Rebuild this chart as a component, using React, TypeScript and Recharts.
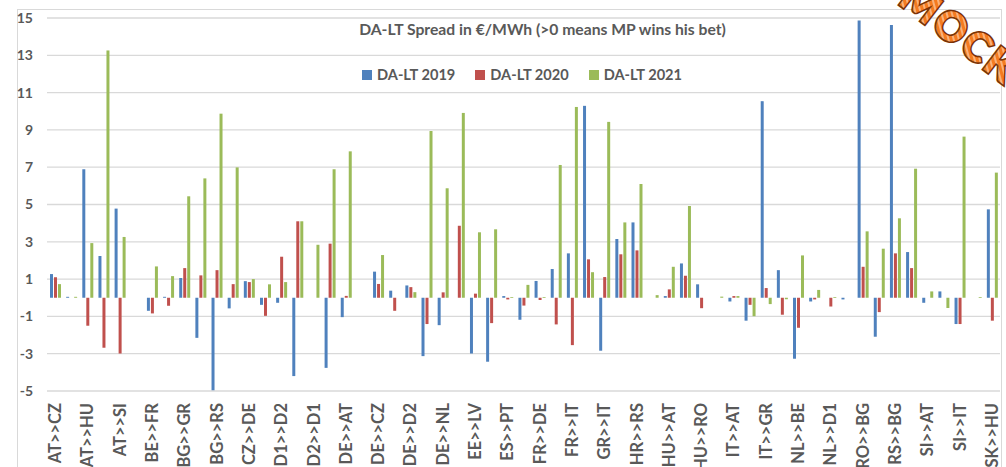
import { BarChart, Bar, XAxis, YAxis, CartesianGrid, Legend } from 'recharts';

const categories = [
  'AT>>CZ', 'AT>>DE', 'AT>>HU', 'AT>>IT', 'AT>>SI', 'BE>>DE', 'BE>>FR', 'BE>>NL', 'BG>>GR', 'BG>>RO',
  'BG>>RS', 'CH>>DE', 'CZ>>DE', 'CZ>>SK', 'D1>>D2', 'D1>>NL', 'D2>>D1', 'D2>>DE', 'DE>>AT', 'DE>>BE',
  'DE>>CZ', 'DE>>D1', 'DE>>D2', 'DE>>FR', 'DE>>NL', 'DE>>PL', 'EE>>LV', 'ES>>FR', 'ES>>PT', 'FR>>BE',
  'FR>>DE', 'FR>>ES', 'FR>>IT', 'GR>>BG', 'GR>>IT', 'HR>>HU', 'HR>>RS', 'HR>>SI', 'HU>>AT', 'HU>>HR',
  'HU>>RO', 'HU>>SK', 'IT>>AT', 'IT>>FR', 'IT>>GR', 'IT>>SI', 'NL>>BE', 'NL>>DE', 'NL>>D1', 'PT>>ES',
  'RO>>BG', 'RO>>HU', 'RS>>BG', 'RS>>HU', 'SI>>AT', 'SI>>HR', 'SI>>IT', 'SK>>CZ', 'SK>>HU',
];

const da2019 = [
  1.27, 0.05, 6.89, 2.24, 4.78, 0, -0.7, 0.05, 1.06, -2.15,
  -4.96, -0.57, 0.89, -0.38, -0.27, -4.2, 0, -3.76, -1.04, 0,
  1.4, 0.38, 0.66, -3.13, -1.47, 0, -2.99, -3.43, 0.09, -1.18,
  0.9, 1.54, 2.38, 10.29, -2.84, 3.15, 4.04, 0, 0.09, 1.84,
  0.72, 0, -0.2, -1.23, 10.54, 1.48, -3.27, -0.2, 0, -0.09,
  14.87, -2.09, 14.62, 2.45, -0.27, 0.34, -1.41, 0, 4.74,
];

const da2020 = [
  1.1, 0, -1.5, -2.68, -2.99, 0, -0.84, -0.43, 1.59, 1.2,
  1.48, 0.73, 0.84, -0.97, 2.2, 4.1, 0, 2.9, 0.1, 0,
  0.74, -0.7, 0.57, -1.41, 0.29, 3.86, 0.22, -1.36, -0.09, -0.42,
  -0.12, -1.43, -2.54, 2.06, 1.11, 2.33, 2.54, 0, 0.45, 1.18,
  -0.56, 0, 0.09, -0.38, 0.52, -0.91, -1.61, -0.09, -0.47, 0,
  1.66, -0.77, 2.38, 1.59, 0, 0, -1.41, 0, -1.23,
];

const da2021 = [
  0.73, 0.05, 2.93, 13.26, 3.26, 0, 1.68, 1.16, 5.44, 6.4,
  9.87, 6.99, 1.0, 0.72, 0.84, 4.1, 2.84, 6.89, 7.85, 0,
  2.29, 0, 0.3, 8.94, 5.87, 9.91, 3.51, 3.67, 0.04, 0.69,
  0.04, 7.12, 10.23, 1.37, 9.43, 4.04, 6.1, 0.14, 1.66, 4.92,
  0, 0.06, 0.09, -0.99, -0.34, -0.08, 2.27, 0.42, 0.04, 0,
  3.56, 2.63, 4.26, 6.92, 0.34, -0.55, 8.64, 0.04, 6.71,
];

const yTicks = [-5, -3, -1, 1, 3, 5, 7, 9, 11, 13, 15];

const SERIES = [
  { key: 'DA-LT 2019', color: '#4F81BD' },
  { key: 'DA-LT 2020', color: '#C0504D' },
  { key: 'DA-LT 2021', color: '#9BBB59' },
];

const FONT = 'Lato, "Open Sans", sans-serif';
const TEXT = '#595959';

const data = categories.map((name, i) => ({
  name,
  'DA-LT 2019': da2019[i],
  'DA-LT 2020': da2020[i],
  'DA-LT 2021': da2021[i],
}));

function XTick(props: any) {
  const { x, y, payload } = props;
  return (
    <text
      x={x}
      y={y}
      transform={`rotate(-90, ${x}, ${y})`}
      textAnchor="end"
      dominantBaseline="central"
      fill={TEXT}
      fontSize={16.5}
      fontWeight={700}
      fontFamily={FONT}
    >
      {payload.value}
    </text>
  );
}

function LegendContent() {
  return (
    <div style={{ display: 'flex', alignItems: 'center', fontFamily: FONT, fontWeight: 700, fontSize: 14.6, color: TEXT }}>
      {SERIES.map((s, i) => (
        <div key={s.key} style={{ display: 'flex', alignItems: 'center', marginRight: i < 2 ? 20 : 0 }}>
          <div style={{ width: 10, height: 10, background: s.color, marginRight: 5 }} />
          <span style={{ lineHeight: '16px' }}>{s.key}</span>
        </div>
      ))}
    </div>
  );
}

export default function App() {
  return (
    <div style={{ position: 'absolute', left: 0, top: 0, width: 1006, height: 467, overflow: 'hidden', background: '#fff' }}>
      <div style={{ position: 'absolute', left: 17, top: 9, width: 983, height: 600, border: '1px solid #d9d9d9' }} />
      <div
        style={{
          position: 'absolute',
          left: 0,
          top: 20,
          width: 1085,
          textAlign: 'center',
          fontFamily: FONT,
          fontWeight: 700,
          fontSize: 15.7,
          lineHeight: '18px',
          color: TEXT,
        }}
      >
        DA-LT Spread in €/MWh (&gt;0 means MP wins his bet)
      </div>
      <div style={{ position: 'absolute', left: 0, top: 0 }}>
        <BarChart
          width={1006}
          height={467}
          data={data}
          margin={{ top: 18, right: 6, bottom: 0, left: 0 }}
          barSize={3}
          barGap={1}
        >
          <CartesianGrid vertical={false} stroke="#d9d9d9" strokeWidth={1.3} />
          <XAxis
            dataKey="name"
            interval={1}
            height={76}
            axisLine={false}
            tickLine={false}
            tickSize={0}
            tickMargin={12}
            tick={<XTick />}
          />
          <YAxis
            width={47}
            domain={[-5, 15]}
            ticks={yTicks}
            axisLine={false}
            tickLine={false}
            tickSize={0}
            tickMargin={14}
            tick={{ fill: TEXT, fontSize: 14, fontWeight: 700, fontFamily: FONT }}
          />
          <Legend
            verticalAlign="middle"
            align="center"
            content={<LegendContent />}
            wrapperStyle={{ top: 67, left: 362, width: 'auto' }}
          />
          {SERIES.map((s) => (
            <Bar key={s.key} dataKey={s.key} fill={s.color} isAnimationActive={false} />
          ))}
        </BarChart>
      </div>
      <svg width={1006} height={467} style={{ position: 'absolute', left: 0, top: 0, pointerEvents: 'none' }}>
        <defs>
          <pattern id="stripes" patternUnits="userSpaceOnUse" width={5} height={5} patternTransform="rotate(37.5)">
            <rect width={5} height={5} fill="#F47B20" />
            <rect width={5} height={2} fill="#F9B27B" />
          </pattern>
        </defs>
        <text
          x={897}
          y={3}
          transform="rotate(37.5, 897, 3)"
          fontFamily={FONT}
          fontWeight={900}
          fontSize={40}
          letterSpacing={3}
          fill="url(#stripes)"
          stroke="#7A3206"
          strokeWidth={3.2}
          paintOrder="stroke"
        >
          MOCKUP
        </text>
      </svg>
    </div>
  );
}
